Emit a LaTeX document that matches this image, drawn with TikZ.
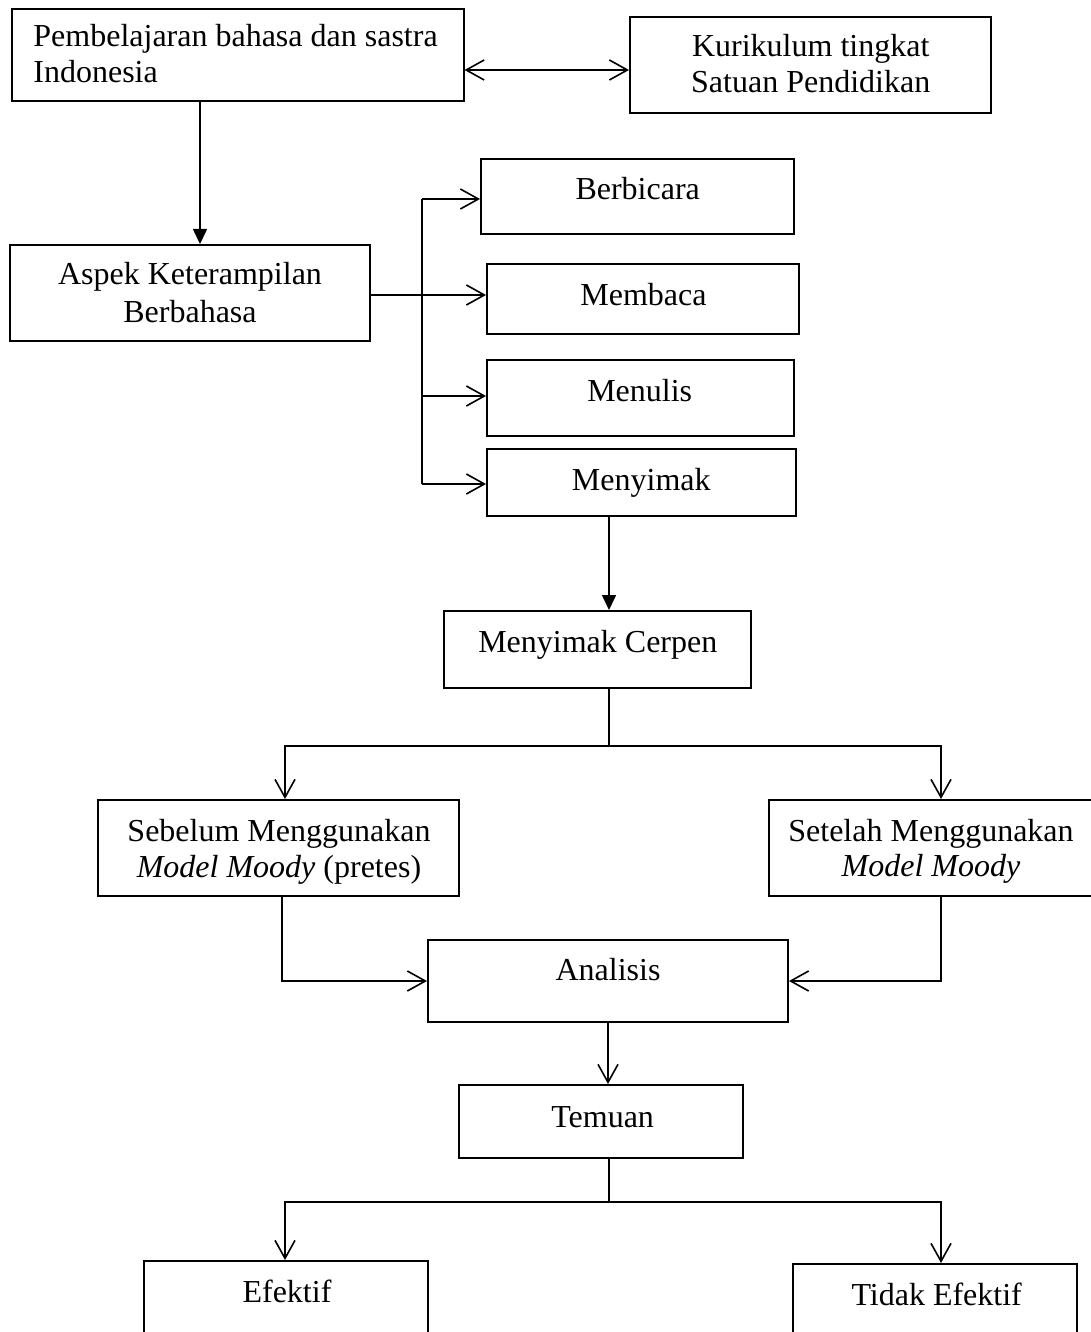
\documentclass[tikz,border=0pt]{standalone}
\usepackage{fontspec}
\setmainfont{Liberation Serif}
\usetikzlibrary{arrows.meta}
\tikzset{
  box/.style={draw, line width=1pt, inner sep=0pt},
  txt/.style={inner sep=0pt, font=\fontsize{16}{18}\selectfont},
  conn/.style={line width=0.8pt},
  barb/.style={conn, -{Straight Barb[length=9pt,width=10pt]}},
  dbarb/.style={conn, {Straight Barb[length=9pt,width=10pt]}-{Straight Barb[length=9pt,width=10pt]}},
  tri/.style={conn, -{Triangle[length=7.5pt,width=7pt]}},
}
\begin{document}
\begin{tikzpicture}[x=0.5pt,y=-0.5pt]
\useasboundingbox (0,0) rectangle (1091,1332);
\fill[white] (0,0) rectangle (1091,1332);
\clip (0,0) rectangle (1091,1332);

% boxes
\node[box, minimum width=225.75pt, minimum height=46pt] (A) at (237.75,55) {};
\node[box, minimum width=180.5pt, minimum height=48pt] (B) at (810.5,65) {};
\node[box, minimum width=180pt, minimum height=48pt] (C) at (190,293) {};
\node[box, minimum width=156.5pt, minimum height=37.5pt] (D) at (637.5,196.5) {};
\node[box, minimum width=156pt, minimum height=35pt] (E) at (643,299) {};
\node[box, minimum width=153.5pt, minimum height=38pt] (F) at (640.5,398) {};
\node[box, minimum width=154.5pt, minimum height=33.5pt] (G) at (641.5,482.5) {};
\node[box, minimum width=153.5pt, minimum height=38.5pt] (H) at (597.5,649.5) {};
\node[box, minimum width=180.5pt, minimum height=48pt] (I) at (278.5,848) {};
\node[box, minimum width=163pt, minimum height=48pt] (J) at (932,848) {};
\node[box, minimum width=180pt, minimum height=41pt] (K) at (608,981) {};
\node[box, minimum width=142pt, minimum height=36.5pt] (L) at (600.5,1121.5) {};
\node[box, minimum width=142pt, minimum height=50pt] (M) at (286,1311) {};
\node[box, minimum width=142pt, minimum height=50pt] (N) at (935,1314) {};

% texts
\node[txt, anchor=base west] (tA1) at (33,47) {Pembelajaran bahasa dan sastra};
\node[txt, anchor=base west] (tA2) at (33,83) {Indonesia};
\node[txt, anchor=base] (tB1) at (810.7,57) {Kurikulum tingkat};
\node[txt, anchor=base] (tB2) at (810.7,93) {Satuan Pendidikan};
\node[txt, anchor=base] (tC1) at (190,285) {Aspek Keterampilan};
\node[txt, anchor=base] (tC2) at (190,322) {Berbahasa};
\node[txt, anchor=base] (tD) at (637.7,200) {Berbicara};
\node[txt, anchor=base] (tE) at (643.5,305) {Membaca};
\node[txt, anchor=base] (tF) at (639.7,401.5) {Menulis};
\node[txt, anchor=base] (tG) at (641.3,490) {Menyimak};
\node[txt, anchor=base] (tH) at (597.8,652) {Menyimak Cerpen};
\node[txt, anchor=base] (tI1) at (279,841) {Sebelum Menggunakan};
\node[txt, anchor=base] (tI2) at (279,877) {\textit{Model Moody} (pretes)};
\node[txt, anchor=base] (tJ1) at (931,841) {Setelah Menggunakan};
\node[txt, anchor=base] (tJ2) at (931,876) {\textit{Model Moody}};
\node[txt, anchor=base] (tK) at (608,980) {Analisis};
\node[txt, anchor=base] (tL) at (602.6,1127) {Temuan};
\node[txt, anchor=base] (tM) at (287,1302) {Efektif};
\node[txt, anchor=base] (tN) at (936.7,1305) {Tidak Efektif};

% connectors
\draw[dbarb] ([yshift=-7.5pt]A.east) -- ([yshift=-2.5pt]B.west);
\draw[tri] ([xshift=-18.875pt]A.south) -- ([xshift=-18.875pt]A.south |- C.north);

\coordinate (j1) at (422,199);
\coordinate (j2) at (422,295);
\coordinate (j3) at (422,396);
\coordinate (j4) at (422,484);
\draw[conn] (j1) -- (j4);
\draw[barb] (j1) -- (j1 -| D.west);
\draw[barb] (C.east |- j2) -- (j2 -| E.west);
\draw[barb] (j3) -- (j3 -| F.west);
\draw[barb] (j4) -- (j4 -| G.west);

\draw[tri] ([xshift=-16.25pt]G.south) -- ([xshift=-16.25pt]G.south |- H.north);

\coordinate (b1m) at (609,746);
\coordinate (b1l) at (285,746);
\coordinate (b1r) at (941,746);
\draw[conn] ([xshift=5.75pt]H.south) -- (b1m);
\draw[barb] (b1m) -- (b1l) -- (b1l |- I.north);
\draw[barb] (b1m) -- (b1r) -- (b1r |- J.north);

\draw[barb] ([xshift=1.75pt]I.south) |- (K.west);
\draw[barb] ([xshift=4.5pt]J.south) |- (K.east);
\draw[barb] (K.south) -- (K.south |- L.north);

\coordinate (b2m) at (609,1202);
\coordinate (b2l) at (285,1202);
\coordinate (b2r) at (941,1202);
\draw[conn] ([xshift=4.25pt]L.south) -- (b2m);
\draw[barb] (b2m) -- (b2l) -- (b2l |- M.north);
\draw[barb] (b2m) -- (b2r) -- (b2r |- N.north);
\end{tikzpicture}
\end{document}
